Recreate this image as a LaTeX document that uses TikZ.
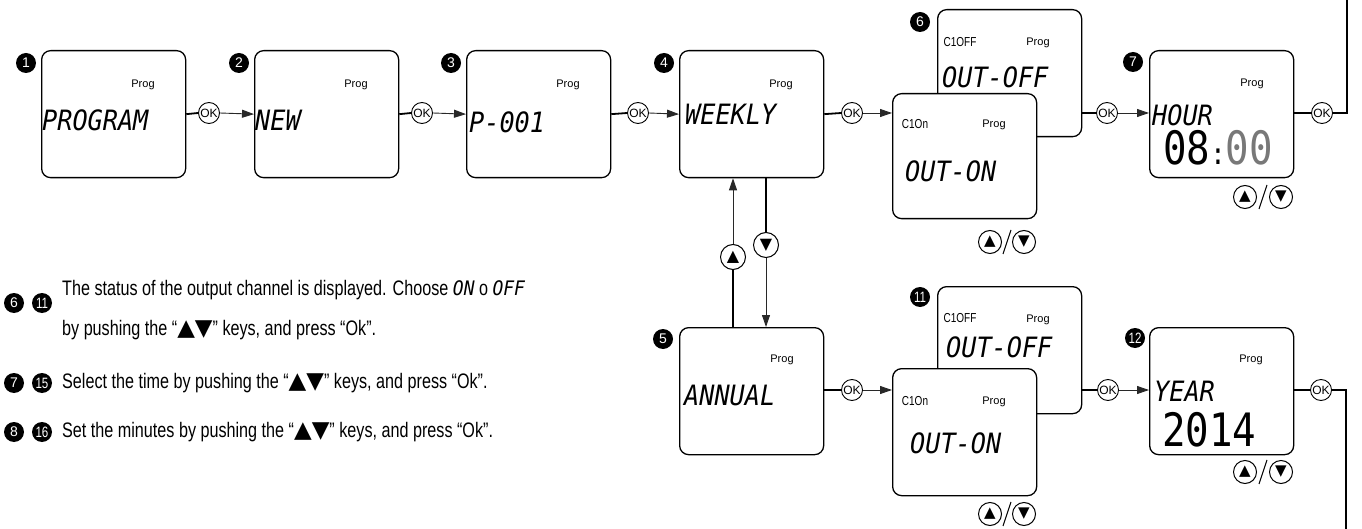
\documentclass[tikz,border=0pt]{standalone}
\usepackage{fontspec}
\setmainfont{Liberation Sans}
\newfontfamily\cond[FakeStretch=0.77]{Liberation Sans}
\newfontfamily\lcdf[FakeStretch=0.9]{DejaVu Sans Mono}
\newfontfamily\bigf[FakeStretch=0.85]{DejaVu Sans Mono}
\newfontfamily\symf{DejaVu Sans}
\usetikzlibrary{arrows.meta,calc}
\definecolor{lcdgray}{RGB}{120,120,120}
\definecolor{arrgray}{RGB}{40,40,40}
\tikzset{
  lcdbox/.style={draw, line width=1.3pt, rounded corners=9pt, fill=white, minimum width=144pt, minimum height=127pt, anchor=north west, inner sep=0pt},
  badge/.style={circle, fill=black, text=white, inner sep=0pt, minimum size=20pt, font=\fontsize{14}{14}\selectfont},
  badgetwo/.style={badge, font=\cond\fontsize{15}{15}\selectfont},
  okc/.style={circle, draw, line width=0.9pt, fill=white, inner sep=0pt, minimum size=21pt, font=\fontsize{12}{12}\selectfont},
  udc/.style={circle, draw, line width=1pt, fill=white, inner sep=0pt, minimum size=23pt, font=\symf\fontsize{15}{15}\selectfont},
  bigc/.style={circle, draw, line width=1pt, fill=white, inner sep=0pt, minimum size=25pt, font=\symf\fontsize{16}{16}\selectfont},
  thk/.style={line width=1.8pt},
  arr/.style={line width=0.9pt, draw=arrgray, -{Triangle[length=12pt,width=8pt]}},
  prog/.style={font=\fontsize{11}{11}\selectfont, inner sep=0pt},
  chan/.style={font=\cond\fontsize{13}{13}\selectfont, inner sep=0pt},
  lcd/.style={font=\lcdf\itshape\fontsize{28}{28}\selectfont, inner sep=0pt, anchor=west},
  big/.style={font=\bigf\fontsize{46}{46}\selectfont, inner sep=0pt, anchor=west},
  txt/.style={font=\cond\fontsize{21}{21}\selectfont, inner sep=0pt, anchor=west},
  slash/.style={line width=1pt}
}
\newcommand{\tri}[1]{{\symf\fontsize{23}{23}\selectfont #1}}
\newcommand{\lcdw}[1]{{\lcdf\itshape\fontsize{20}{20}\selectfont #1}}
\newcommand{\slashbetween}[2]{\draw[slash] ([xshift=-4pt,yshift=-12pt]$(#1)!0.5!(#2)$) -- ([xshift=4pt,yshift=12pt]$(#1)!0.5!(#2)$);}
\begin{document}
\begin{tikzpicture}[x=1pt,y=-1pt]
\useasboundingbox (0,0) rectangle (1362,529);

% ---------- row 1 boxes ----------
\node[lcdbox] (b1) at (41,50) {};
\node[lcdbox] (b2) at (254,50) {};
\node[lcdbox] (b3) at (466,50) {};
\node[lcdbox] (b4) at (679,50) {};
\node[lcdbox] (b6off) at (937,9) {};
\node[lcdbox, minimum height=125pt] (b6on) at (892,93) {};
\node[lcdbox] (b7) at (1149,50) {};
% ---------- row 2 boxes ----------
\node[lcdbox] (b5) at (679,327) {};
\node[lcdbox] (b11off) at (937,286) {};
\node[lcdbox] (b11on) at (892,368) {};
\node[lcdbox] (b12) at (1149,327) {};

% badges
\node[badge] (n1) at (26,63) {1};
\node[badge] (n2) at (239,63) {2};
\node[badge] (n3) at (451,63) {3};
\node[badge] (n4) at (664,63) {4};
\node[badge] (n6) at (920,22) {6};
\node[badge] (n7) at (1133,62) {7};
\node[badge] (n5) at (663,339) {5};
\node[badgetwo] (n11) at (920,297) {11};
\node[badgetwo] (n12) at (1135,338) {12};

% Prog labels
\node[prog] (p1) at (143,85) {Prog};
\node[prog] (p2) at (356,85) {Prog};
\node[prog] (p3) at (568,85) {Prog};
\node[prog] (p4) at (781,85) {Prog};
\node[prog] (p6off) at (1038,43) {Prog};
\node[prog] (p6on) at (994,125) {Prog};
\node[prog] (p7) at (1252,84) {Prog};
\node[prog] (p5) at (782,360) {Prog};
\node[prog] (p11off) at (1038,320) {Prog};
\node[prog] (p11on) at (994,402) {Prog};
\node[prog] (p12) at (1251,360) {Prog};

% channel labels
\node[chan] (c6off) at (960,42) {C1OFF};
\node[chan] (c6on) at (915,124) {C1On};
\node[chan] (c11off) at (960,318) {C1OFF};
\node[chan] (c11on) at (915,401) {C1On};

% LCD texts
\node[lcd] (t1) at (42,120) {PROGRAM};
\node[lcd] (t2) at (255,120) {NEW};
\node[lcd] (t3) at (469,122) {P-001};
\node[lcd] (t4) at (685,114) {WEEKLY};
\node[lcd] (t6off) at (942,77) {OUT-OFF};
\node[lcd] (t6on) at (905,171) {OUT-ON};
\node[lcd] (t7) at (1152,115) {HOUR};
\node[big] (d7) at (1163,148) {08{\fontsize{30}{30}\selectfont:}\textcolor{lcdgray}{00}};
\node[lcd] (t5) at (684,395) {ANNUAL};
\node[lcd] (t11off) at (946,347) {OUT-OFF};
\node[lcd] (t11on) at (910,443) {OUT-ON};
\node[lcd] (t12) at (1154,391) {YEAR};
\node[big] (d12) at (1162,430) {2014};

% OK buttons row 1
\node[okc] (ok1) at (209,113) {OK};
\node[okc] (ok2) at (422,113) {OK};
\node[okc] (ok3) at (638,113) {OK};
\node[okc] (ok4) at (852,113) {OK};
\node[okc] (ok6) at (1107,113) {OK};
\node[okc] (ok7) at (1322,113) {OK};
% OK buttons row 2
\node[okc] (ok5) at (852,390) {OK};
\node[okc] (ok11) at (1108,390) {OK};
\node[okc] (ok12) at (1321,390) {OK};

% connectors row 1
\draw[thk] (b1.east) -- (ok1.west);
\draw[arr] (ok1.east) -- (b2.west);
\draw[thk] (b2.east) -- (ok2.west);
\draw[arr] (ok2.east) -- (b3.west);
\draw[thk] (b3.east) -- (ok3.west);
\draw[arr] (ok3.east) -- (b4.west);
\draw[thk] (b4.east) -- (ok4.west);
\draw[arr] (ok4.east) -- (ok4 -| b6on.west);
\draw[thk] (ok6 -| b6off.east) -- (ok6.west);
\draw[arr] (ok6.east) -- (ok6 -| b7.west);
\draw[thk] (b7.east |- ok7) -- (ok7.west);
\coordinate (r1) at (1347,113);
\coordinate (r1top) at (1347,0);
\draw[thk] (ok7.east) -- (r1) -- (r1top);
% connectors row 2
\draw[thk] (b5.east |- ok5) -- (ok5.west);
\draw[arr] (ok5.east) -- (ok5 -| b11on.west);
\draw[thk] (ok11 -| b11off.east) -- (ok11.west);
\draw[arr] (ok11.east) -- (ok11 -| b12.west);
\draw[thk] (b12.east |- ok12) -- (ok12.west);
\coordinate (r2) at (1346,390);
\coordinate (r2bot) at (1346,529);
\draw[thk] (ok12.east) -- (r2) -- (r2bot);

% vertical up/down between 4 and 5
\node[bigc] (up45) at (733,257) {▲};
\node[bigc] (dn45) at (766,245) {▼};
\draw[thk] (b5.north -| up45) -- (up45.south);
\draw[arr] (up45.north) -- (b4.south -| up45);
\draw[thk] (b4.south -| dn45) -- (dn45.north);
\draw[arr] (dn45.south) -- (b5.north -| dn45);

% up/down pairs
\node[udc] (u6) at (990,242) {▲};
\node[udc] (v6) at (1024,242) {▼};
\slashbetween{u6}{v6}
\node[udc] (u7) at (1245,197) {▲};
\node[udc] (v7) at (1281,197) {▼};
\slashbetween{u7}{v7}
\node[udc] (u11) at (990,514) {▲};
\node[udc] (v11) at (1024,514) {▼};
\slashbetween{u11}{v11}
\node[udc] (u12) at (1245,472) {▲};
\node[udc] (v12) at (1281,472) {▼};
\slashbetween{u12}{v12}

% legend
\node[badge] (l6) at (14,303) {6};
\node[badgetwo] (l11) at (42,303) {11};
\node[txt] (x1) at (62,290) {The status of the output channel is displayed. Choose \lcdw{ON} o \lcdw{OFF}};
\node[txt] (x2) at (62,330) {by pushing the “\tri{▲▼}” keys, and press “Ok”.};
\node[badge] (l7) at (14,383) {7};
\node[badgetwo] (l15) at (42,383) {15};
\node[txt] (x3) at (62,383) {Select the time by pushing the “\tri{▲▼}” keys, and press “Ok”.};
\node[badge] (l8) at (14,432) {8};
\node[badgetwo] (l16) at (42,432) {16};
\node[txt] (x4) at (62,432) {Set the minutes by pushing the “\tri{▲▼}” keys, and press “Ok”.};
\end{tikzpicture}
\end{document}
